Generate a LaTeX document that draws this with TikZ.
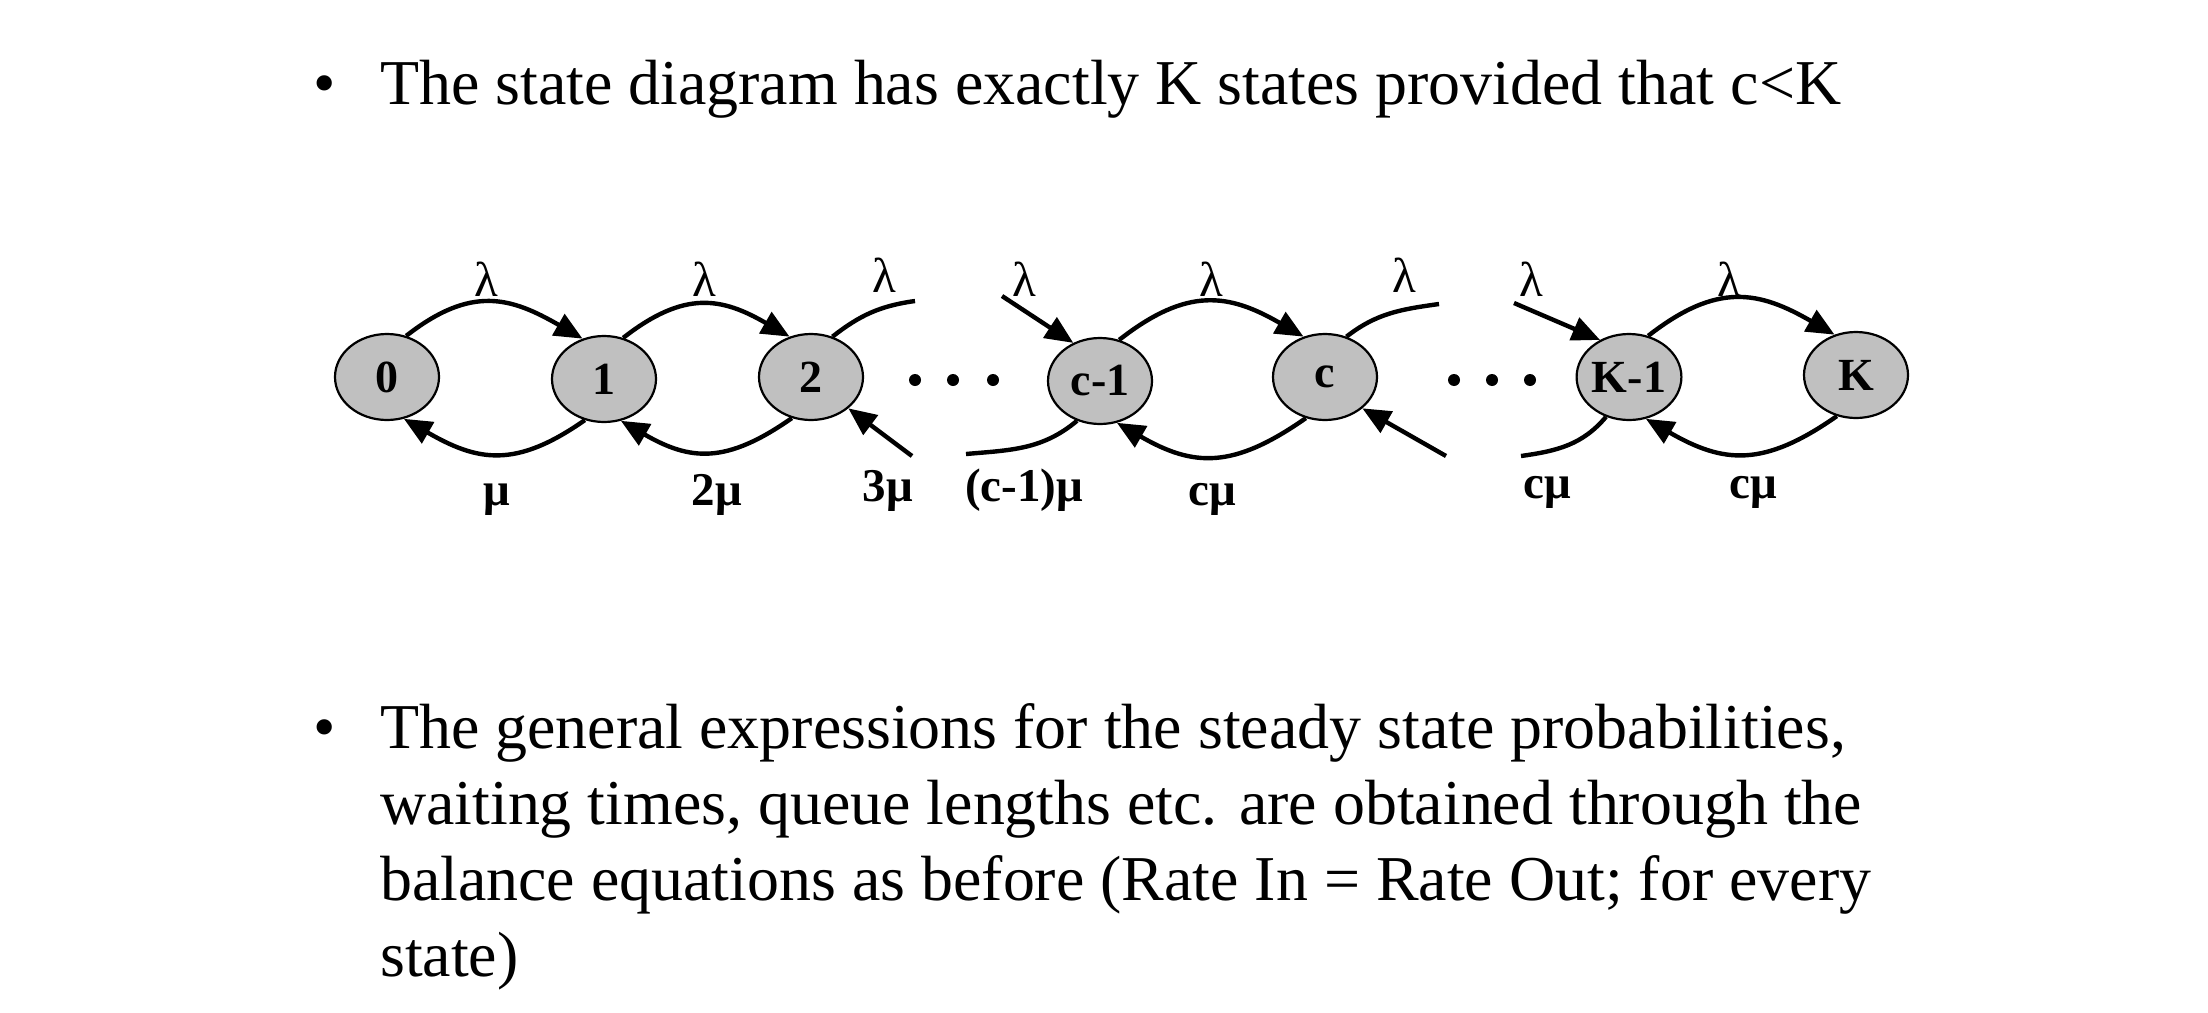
\documentclass[tikz,border=0pt]{standalone}
\usepackage{fontspec}
\setmainfont{Liberation Serif}
\usetikzlibrary{arrows.meta,shapes.geometric}
\definecolor{statefill}{RGB}{192,192,192}
\begin{document}
\begin{tikzpicture}[x=1pt,y=1pt,
  state/.style={ellipse, draw=black, line width=2.2pt, fill=statefill, minimum width=104pt, minimum height=86pt, inner sep=0pt, font=\fontsize{46}{50}\selectfont\bfseries},
  trans/.style={line width=4.4pt, -{Triangle[length=28pt,width=24pt]}},
  free/.style={line width=4.4pt},
  lab/.style={font=\fontsize{47}{50}\selectfont\bfseries, inner sep=0pt},
  lamlab/.style={font=\fontsize{49}{52}\selectfont, inner sep=0pt},
  body/.style={font=\fontsize{63.9}{76}\selectfont, inner sep=0pt, anchor=base west},
  dot/.style={circle, fill=black, minimum size=12pt, inner sep=0pt}
]
\useasboundingbox (0,0) rectangle (2208,-1012);

% text
\node[body] (b1) at (313,-104) {•};
\node[body] (t1) at (380,-104) {The state diagram has exactly K states provided that c<K};
\node[body] (b2) at (313,-748) {•};
\node[body] (p1) at (380,-748) {The general expressions for the steady state probabilities,};
\node[body] (p2) at (380,-824) {waiting times, queue lengths etc. are obtained through the};
\node[body] (p3) at (380,-900) {balance equations as before (Rate In = Rate Out; for every};
\node[body] (p4) at (380,-976) {state)};

% states
\node[state] (n0) at (387,-377) {0};
\node[state] (n1) at (604,-379) {1};
\node[state] (n2) at (811,-377) {2};
\node[state] (nc1) at (1100,-381) {c-1};
\node[state] (nc) at (1325,-377) {c};
\node[state] (nK1) at (1629,-377) {K-1};
\node[state] (nK) at (1856,-375) {K};

% dots
\foreach \x [count=\i] in {915,953,993} \node[dot] (da\i) at (\x,-380) {};
\foreach \x [count=\i] in {1454,1492,1530} \node[dot] (db\i) at (\x,-380) {};

% free ends
\coordinate (o2) at (915,-301);
\coordinate (i2) at (912,-456);
\coordinate (ic1) at (1002,-296);
\coordinate (oc1) at (966,-454);
\coordinate (oc) at (1439,-304);
\coordinate (ic) at (1446,-456);
\coordinate (iK1) at (1514,-303);
\coordinate (oK1) at (1521,-456);

% transitions
\draw[trans] (n0.65) to[out=38,in=150,looseness=1.2] (n1.118);
\draw[trans] (n1.245) to[out=215,in=-30,looseness=1.2] (n0.292);
\draw[trans] (n1.65) to[out=38,in=150,looseness=1.2] (n2.118);
\draw[trans] (n2.245) to[out=215,in=-30,looseness=1.2] (n1.292);
\draw[free] (n2.62) to[out=38,in=188] (o2);
\draw[trans] (i2) -- (n2.-40);
\draw[trans] (ic1) -- (nc1.125);
\draw[free] (nc1.240) to[out=220,in=5] (oc1);
\draw[trans] (nc1.65) to[out=38,in=150,looseness=1.2] (nc.118);
\draw[trans] (nc.245) to[out=215,in=-30,looseness=1.2] (nc1.292);
\draw[free] (nc.62) to[out=38,in=188] (oc);
\draw[trans] (ic) -- (nc.-40);
\draw[trans] (iK1) -- (nK1.128);
\draw[free] (nK1.240) to[out=230,in=8] (oK1);
\draw[trans] (nK1.65) to[out=38,in=150,looseness=1.2] (nK.118);
\draw[trans] (nK.245) to[out=215,in=-30,looseness=1.2] (nK1.292);

% labels
\node[lamlab] (l1) at (486,-279) {λ};
\node[lamlab] (l2) at (704,-279) {λ};
\node[lamlab] (l3) at (884,-275) {λ};
\node[lamlab] (l4) at (1024,-279) {λ};
\node[lamlab] (l5) at (1211,-279) {λ};
\node[lamlab] (l6) at (1404,-275) {λ};
\node[lamlab] (l7) at (1531,-279) {λ};
\node[lamlab] (l8) at (1729,-279) {λ};
\node[lab] (m1) at (497,-500) {μ};
\node[lab] (m2) at (717,-495) {2μ};
\node[lab] (m3) at (888,-491) {3μ};
\node[lab] (m4) at (1024,-490) {(c-1)μ};
\node[lab] (m5) at (1212,-499) {cμ};
\node[lab] (m6) at (1547,-492) {cμ};
\node[lab] (m7) at (1753,-492) {cμ};
\end{tikzpicture}
\end{document}
